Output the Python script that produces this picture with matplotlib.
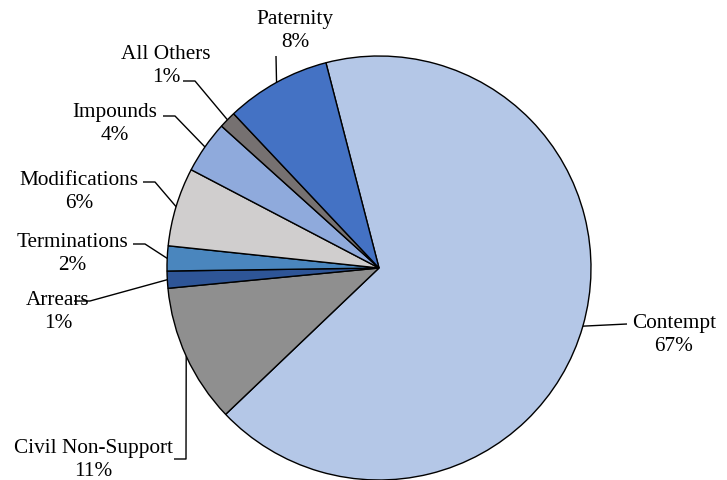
import numpy as np
import matplotlib
matplotlib.use("Agg")
import matplotlib.pyplot as plt

# slice shares (percent), drawn clockwise from the top
categories = ["Contempt", "Civil Non-Support", "Arrears", "Terminations",
              "Modifications", "Impounds", "All Others", "Paternity"]
shares = [66.9, 10.6, 1.3, 1.9, 6.0, 4.0, 1.3, 8.0]
colors = ["#B4C7E7", "#8F8F8F", "#2E5597", "#4A86BE",
          "#D0CECE", "#8FAADC", "#767171", "#4472C4"]

W, H = 727, 481
cx, cy, R = 379, 269, 212   # pie centre / radius in pixels
start = 104.5

# label layout in pixels: text centre, then leader path points (after the edge point)
layout = {
    "Contempt":          ((674, 335), [(627, 325)]),
    "Civil Non-Support": ((93, 460),  [(186, 460), (174, 460)]),
    "Arrears":           ((58, 312),  [(90, 302), (74, 302)]),
    "Terminations":      ((72, 254),  [(145, 245), (133, 245)]),
    "Modifications":     ((79, 192),  [(155, 183), (143, 183)]),
    "Impounds":          ((115, 124), [(175, 117), (163, 117)]),
    "All Others":        ((166, 66),  [(195, 82), (183, 82)]),
    "Paternity":         ((295, 31),  [(276, 57)]),
}

plt.rcParams['font.family'] = ['Liberation Serif', 'DejaVu Serif']

fig = plt.figure(figsize=(W / 100, H / 100), dpi=100)
ax = fig.add_axes([0, 0, 1, 1])

wedges, _ = ax.pie(shares, colors=colors, startangle=start, counterclock=False,
                   center=(cx, H - cy), radius=R, normalize=True,
                   wedgeprops=dict(edgecolor='black', linewidth=1.0))

# pie() resets the limits, so set the pixel frame afterwards
ax.set_xlim(0, W)
ax.set_ylim(0, H)
ax.set_aspect('equal')
ax.axis('off')

for w, name, val in zip(wedges, categories, shares):
    mid = np.deg2rad((w.theta1 + w.theta2) / 2)
    ex = cx + R * np.cos(mid)
    ey = cy - R * np.sin(mid)
    (tx, ty), path = layout[name]
    xs = [ex] + [p[0] for p in path]
    ys = [H - ey] + [H - p[1] for p in path]
    ax.plot(xs, ys, color='black', linewidth=1.0, solid_capstyle='butt')
    ax.text(tx, H - ty, f"{name}\n{round(val)}%", ha='center', va='center',
            fontsize=15.3, linespacing=1.3)

fig.savefig("out.png", dpi=100)
